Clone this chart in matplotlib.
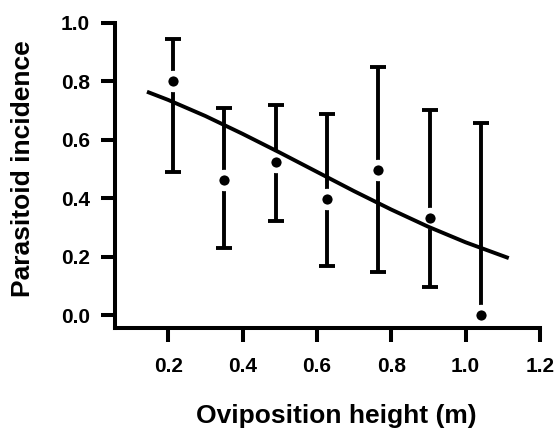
import numpy as np
import matplotlib
matplotlib.use("Agg")
import matplotlib.pyplot as plt

# Parasitoid incidence by oviposition height (means with 95% CI)
height = [0.213, 0.351, 0.489, 0.627, 0.765, 0.903, 1.041]
incidence = [0.80, 0.464, 0.524, 0.399, 0.499, 0.333, 0.0]
ci_upper = [0.945, 0.710, 0.718, 0.689, 0.851, 0.701, 0.659]
ci_lower = [0.492, 0.230, 0.323, 0.168, 0.150, 0.097, 0.0]

# Fitted logistic curve, sampled along the height range
fit_height = [0.143, 0.2, 0.3, 0.4, 0.5, 0.6, 0.7, 0.8, 0.9, 1.0, 1.116]
fit_incidence = [0.765, 0.737, 0.682, 0.621, 0.557, 0.491, 0.425, 0.362, 0.303, 0.250, 0.196]

plt.rcParams['font.family'] = ['Liberation Sans', 'DejaVu Sans']
plt.rcParams['font.weight'] = 'bold'

fig = plt.figure(figsize=(5.55, 4.3), dpi=100)
ax = fig.add_axes([115/555, 1 - 328/430, 425/555, 305/430])

inc = np.array(incidence)
yerr = [inc - np.array(ci_lower), np.array(ci_upper) - inc]

ax.errorbar(height, incidence, yerr=yerr, fmt='none', ecolor='black',
            elinewidth=2.8, capsize=5.5, capthick=2.8, zorder=1.5)
# white rim leaves a gap between each mean and its bar
ax.plot(height, incidence, 'o', color='black', markersize=11.4,
        markeredgecolor='white', markeredgewidth=4, zorder=2)
ax.plot(fit_height, fit_incidence, color='black', linewidth=2.8,
        solid_capstyle='butt', zorder=2.2)

ax.set_xlim(0.057, 1.2)
ax.set_ylim(-0.043, 1.0)
ax.set_xticks([0.2, 0.4, 0.6, 0.8, 1.0, 1.2])
ax.set_yticks([0.0, 0.2, 0.4, 0.6, 0.8, 1.0])
ax.xaxis.set_major_formatter(matplotlib.ticker.FormatStrFormatter('%.1f'))
ax.yaxis.set_major_formatter(matplotlib.ticker.FormatStrFormatter('%.1f'))

for side in ['top', 'right']:
    ax.spines[side].set_visible(False)
for side in ['left', 'bottom']:
    ax.spines[side].set_linewidth(2.9)
    ax.spines[side].set_capstyle('projecting')

ax.tick_params(axis='both', width=2.9, length=10, labelsize=15)
ax.tick_params(axis='x', pad=11)
ax.tick_params(axis='y', pad=8)

ax.set_xlabel('Oviposition height (m)', fontsize=19, fontweight='bold', va='center')
ax.set_ylabel('Parasitoid incidence', fontsize=19, fontweight='bold', va='center')
ax.xaxis.set_label_coords(0.52, -0.29)
ax.yaxis.set_label_coords(-0.216, 0.521)

fig.savefig('out.png', dpi=100)
